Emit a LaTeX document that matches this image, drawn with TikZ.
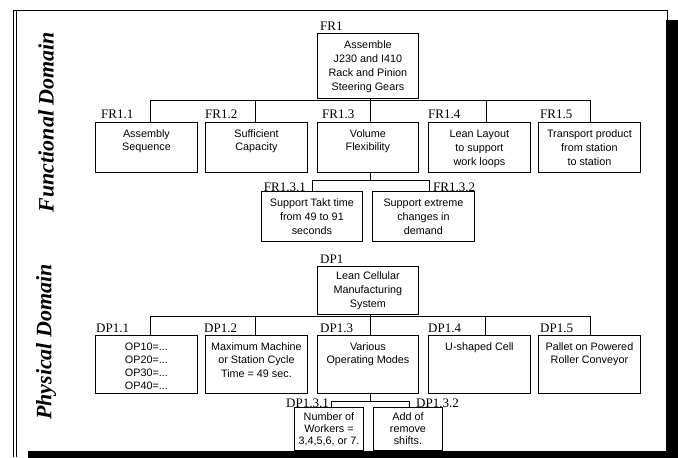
\documentclass[tikz,border=0pt]{standalone}
\usepackage{fontspec}
\setmainfont{Liberation Serif}
\newfontfamily\arialf{Liberation Sans}
\newcommand{\bxt}[5]{\parbox[t][#2pt][t]{#1pt}{\centering\arialf\fontsize{10.8}{#4}\selectfont\rule{0pt}{#3pt}#5\par}}
\tikzset{
  bx/.style={draw, line width=0.9pt, inner sep=0pt, anchor=north west},
  lbl/.style={inner sep=0pt, anchor=base west, font=\fontsize{13}{13}\selectfont},
  lblr/.style={inner sep=0pt, anchor=base east, font=\fontsize{13}{13}\selectfont},
  con/.style={line width=0.9pt},
  dom/.style={rotate=90, inner sep=0pt, font=\fontsize{22}{22}\selectfont\bfseries\itshape}
}
\begin{document}
\begin{tikzpicture}[x=1pt,y=-1pt]
\useasboundingbox (0,0) rectangle (678,458);
% frame
\draw[line width=0.9pt] (13.5,10) -- (667,10) -- (667,20);
\draw[line width=0.8pt] (13.5,10) -- (13.5,457);
\draw[line width=0.8pt] (16.5,10) -- (16.5,457);
\fill[black] (666,20) rectangle (678,458);
\fill[black] (28,451) rectangle (678,458);
% domain titles
\node[dom] (fdom) at (46,122) {Functional Domain};
\node[dom] (pdom) at (46,342) {Physical Domain};
% ===== Functional domain =====
\node[bx] (fr1) at (317,33) {\bxt{101}{65}{15}{14}{Assemble\\J230 and I410\\Rack and Pinion\\Steering Gears}};
\node[bx] (fr11) at (95,122) {\bxt{102}{50}{15}{13.5}{Assembly\\Sequence}};
\node[bx] (fr12) at (205,122) {\bxt{102}{50}{15}{13.5}{Sufficient\\Capacity}};
\node[bx] (fr13) at (317,122) {\bxt{101}{50}{15}{13.5}{Volume\\Flexibility}};
\node[bx] (fr14) at (428,122) {\bxt{102}{50}{15}{14}{Lean Layout\\to support\\work loops}};
\node[bx] (fr15) at (538,122) {\bxt{102}{50}{15}{14}{Transport product\\from station\\to station}};
\node[bx] (fr131) at (261,191) {\bxt{101}{50}{15}{14}{Support Takt time\\from 49 to 91\\seconds}};
\node[bx] (fr132) at (372,191) {\bxt{102}{50}{15}{14}{Support extreme\\changes in\\demand}};
\node[lbl] (lfr1) at (320,30) {FR1};
\node[lbl] (lfr11) at (101,118) {FR1.1};
\node[lbl] (lfr12) at (205,118) {FR1.2};
\node[lbl] (lfr13) at (322,118) {FR1.3};
\node[lbl] (lfr14) at (428,118) {FR1.4};
\node[lbl] (lfr15) at (540,118) {FR1.5};
\node[lblr] (lfr131) at (306,191) {FR1.3.1};
\node[lbl] (lfr132) at (433,191) {FR1.3.2};
\coordinate (fbus) at (370,100);
\draw[con] (fr1.south -| fbus) -- (fbus);
\draw[con] ([xshift=4pt]fr11.north) -- ([xshift=4pt]fr11.north |- fbus) -- ([xshift=1pt]fr15.north |- fbus) -- ([xshift=1pt]fr15.north);
\draw[con] ([xshift=-1pt]fr12.north) -- ([xshift=-1pt]fr12.north |- fbus);
\draw[con] (fr13.north -| fbus) -- (fbus);
\draw[con] ([xshift=7pt]fr14.north) -- ([xshift=7pt]fr14.north |- fbus);
\coordinate (fsub) at (370,180);
\draw[con] (fr13.south -| fsub) -- (fsub);
\draw[con] ([xshift=0.5pt]fr131.north) -- ([xshift=0.5pt]fr131.north |- fsub) -- ([xshift=6pt]fr132.north |- fsub) -- ([xshift=6pt]fr132.north);
% ===== Physical domain =====
\node[bx] (dp1) at (317,266) {\bxt{101}{48}{13}{14}{Lean Cellular\\Manufacturing\\System}};
\node[bx] (dp11) at (95,335) {\bxt{102}{58}{15}{13}{OP10=...\\OP20=...\\OP30=...\\OP40=...}};
\node[bx] (dp12) at (205,335) {\bxt{102}{58}{15}{13.5}{Maximum Machine\\or Station Cycle\\Time = 49 sec.}};
\node[bx] (dp13) at (317,335) {\bxt{101}{58}{15}{13.5}{Various\\Operating Modes}};
\node[bx] (dp14) at (428,335) {\bxt{102}{58}{15}{13.5}{U-shaped Cell}};
\node[bx] (dp15) at (538,335) {\bxt{102}{58}{15}{13.5}{Pallet on Powered\\Roller Conveyor}};
\node[bx] (dp131) at (294,407) {\bxt{69}{43}{13}{12}{Number of\\Workers =\\3,4,5,6, or 7.}};
\node[bx] (dp132) at (373,407) {\bxt{69}{43}{13}{12}{Add of\\remove\\shifts.}};
\node[lbl] (ldp1) at (320,263) {DP1};
\node[lbl] (ldp11) at (96,332) {DP1.1};
\node[lbl] (ldp12) at (204,332) {DP1.2};
\node[lbl] (ldp13) at (320,332) {DP1.3};
\node[lbl] (ldp14) at (428,332) {DP1.4};
\node[lbl] (ldp15) at (540,332) {DP1.5};
\node[lblr] (ldp131) at (329,407) {DP1.3.1};
\node[lbl] (ldp132) at (416,407) {DP1.3.2};
\coordinate (dbus) at (370,316);
\draw[con] (dp1.south -| dbus) -- (dbus);
\draw[con] ([xshift=4pt]dp11.north) -- ([xshift=4pt]dp11.north |- dbus) -- ([xshift=1pt]dp15.north |- dbus) -- ([xshift=1pt]dp15.north);
\draw[con] ([xshift=-1pt]dp12.north) -- ([xshift=-1pt]dp12.north |- dbus);
\draw[con] (dp13.north -| dbus) -- (dbus);
\draw[con] ([xshift=6pt]dp14.north) -- ([xshift=6pt]dp14.north |- dbus);
\coordinate (dsub) at (370,401);
\draw[con] (dp13.south -| dsub) -- (dsub);
\draw[con] ([xshift=2.5pt]dp131.north) -- ([xshift=2.5pt]dp131.north |- dsub) -- ([xshift=1.5pt]dp132.north |- dsub) -- ([xshift=1.5pt]dp132.north);
\end{tikzpicture}
\end{document}
